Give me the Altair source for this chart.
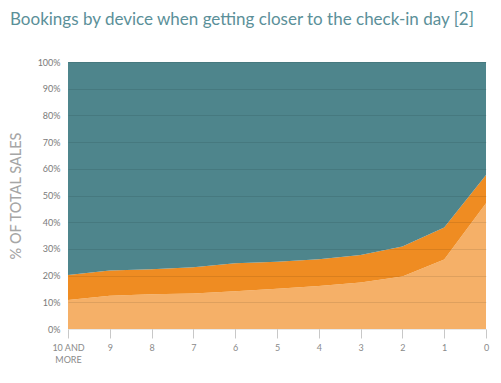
import altair as alt
import pandas as pd

days = ["10 AND MORE", "9", "8", "7", "6", "5", "4", "3", "2", "1", "0"]
series = ["Smartphone", "Tablet", "Desktop"]
smartphone = [10.9, 12.5, 13.0, 13.3, 14.1, 15.1, 16.1, 17.4, 19.7, 26.0, 47.1]
tablet = [9.3, 9.4, 9.4, 9.8, 10.5, 10.1, 10.0, 10.3, 11.2, 12.0, 10.6]
desktop = [round(100 - a - b, 1) for a, b in zip(smartphone, tablet)]
colors = ["#f5b068", "#ef8c22", "#4e858c"]
y_ticks = [0, 10, 20, 30, 40, 50, 60, 70, 80, 90, 100]

rows = []
for name, vals in zip(series, [smartphone, tablet, desktop]):
    for d, v in zip(days, vals):
        rows.append({"day": d, "device": name, "share": v, "order": series.index(name)})
df = pd.DataFrame(rows)

chart = alt.Chart(df).mark_area(opacity=1, interpolate="linear").encode(
    x=alt.X("day:O", sort=days, scale=alt.Scale(type="point", padding=0),
            axis=alt.Axis(title=None, domain=False, grid=False, labelAngle=0,
                          tickColor="#c8c8c8", tickSize=9, tickWidth=1,
                          labelColor="#8a8a8a", labelFontSize=9, labelFont="Lato",
                          labelPadding=5, labelLineHeight=12,
                          labelExpr="datum.label == '10 AND MORE' ? ['10 AND', 'MORE'] : datum.label")),
    y=alt.Y("share:Q", stack="zero", scale=alt.Scale(domain=[0, 100], nice=False),
            axis=alt.Axis(values=y_ticks, title="% OF TOTAL SALES", domain=False, ticks=False,
                          labelExpr="datum.value + '%'", labelColor="#7a7a7a", labelFontSize=9,
                          labelFont="Lato", labelPadding=8,
                          grid=True, gridColor="#000000", gridOpacity=0.09, zindex=1,
                          titleX=-52, titleY=133.5, titleAngle=-90, titleAlign="center",
                          titleBaseline="middle", titleFont="Lato", titleFontSize=14.5,
                          titleFontWeight=500, titleColor="#a6a6a6")),
    color=alt.Color("device:N", scale=alt.Scale(domain=series, range=colors), legend=None),
    order=alt.Order("order:Q", sort="ascending"),
).properties(
    width=418,
    height=267,
    autosize=alt.AutoSizeParams(type="none"),
    padding={"left": 60, "top": 54, "right": 7, "bottom": 40},
    title=alt.TitleParams(
        text="Bookings by device when getting closer to the check-in day [2]",
        anchor="start", frame="group", dx=-58, offset=16, baseline="alphabetic",
        limit=480, font="Lato", fontSize=17, fontWeight="normal", color="#5b9099"),
).configure_view(stroke=None)

chart.save("out.html", embed_options={"renderer": "svg", "actions": False})
